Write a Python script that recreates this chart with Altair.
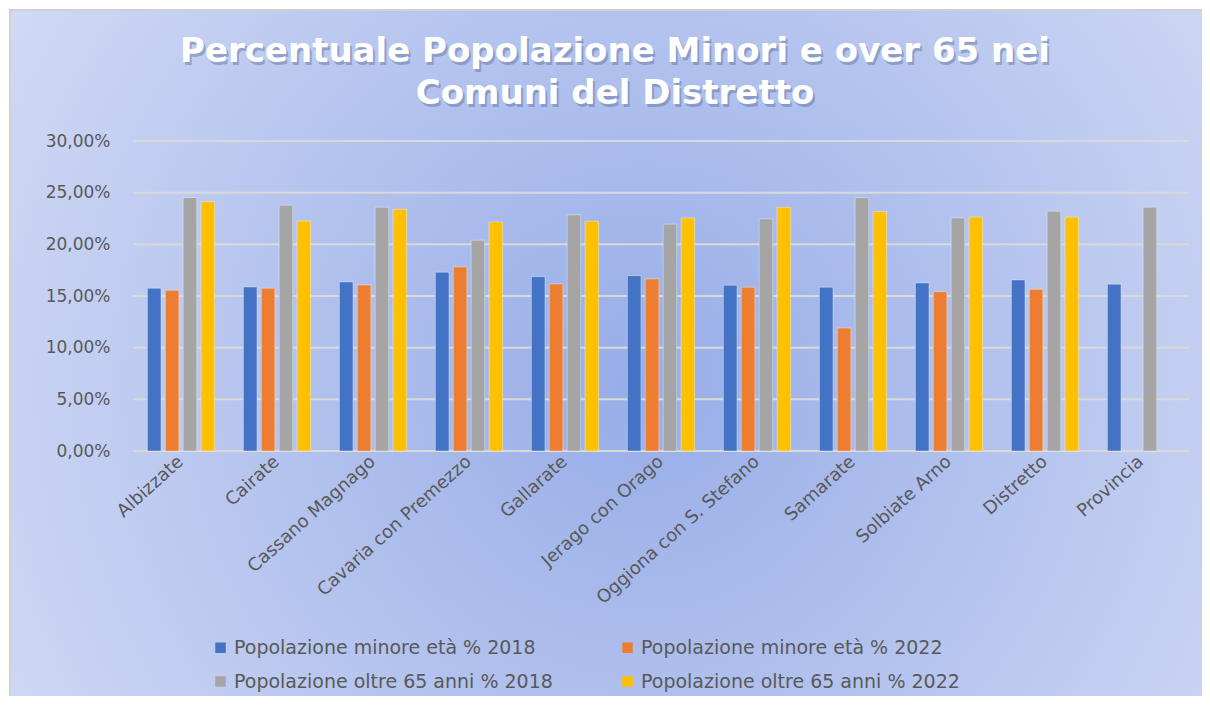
import altair as alt
import pandas as pd

# ---------------- data ----------------
cats = ["Albizzate", "Cairate", "Cassano Magnago", "Cavaria con Premezzo", "Gallarate",
        "Jerago con  Orago", "Oggiona con S. Stefano", "Samarate", "Solbiate Arno",
        "Distretto", "Provincia"]
series = ["Popolazione minore età % 2018", "Popolazione minore età  % 2022",
          "Popolazione oltre  65 anni % 2018", "Popolazione oltre  65 anni %  2022"]
minori_2018 = [15.75, 15.87, 16.36, 17.30, 16.87, 16.97, 16.04, 15.85, 16.26, 16.55, 16.14]
minori_2022 = [15.55, 15.75, 16.07, 17.81, 16.17, 16.65, 15.85, 11.90, 15.42, 15.65, None]
over65_2018 = [24.52, 23.78, 23.59, 20.40, 22.85, 21.95, 22.46, 24.52, 22.55, 23.20, 23.59]
over65_2022 = [24.13, 22.26, 23.40, 22.17, 22.23, 22.55, 23.59, 23.17, 22.65, 22.65, None]
colors = ["#4472C4", "#ED7D31", "#A5A5A5", "#FFC000"]
y_ticks = [0, 5, 10, 15, 20, 25, 30]
title_lines = ["Percentuale Popolazione Minori e over 65  nei", "Comuni del Distretto"]

rows = []
for i, c in enumerate(cats):
    for s, vals in zip(series, [minori_2018, minori_2022, over65_2018, over65_2022]):
        if vals[i] is not None:
            rows.append({"Comune": c, "Serie": s, "Valore": vals[i]})
df = pd.DataFrame(rows)

# ---------------- layout ----------------
W, H = 1056, 310
PL, PT = 125, 133
PR = 1194 - PL - W
PB = 688 - PT - H
FONT = "DejaVu Sans"
GREY = "#595959"

bg_fill = alt.RadialGradient(
    gradient="radial",
    stops=[alt.GradientStop(offset=0, color="#97ade8"),
           alt.GradientStop(offset=1, color="#e1e6f8")],
    x1=0.52, y1=0.52, x2=0.52, y2=0.52, r1=0, r2=0.78,
)

bg = alt.Chart(pd.DataFrame({"k": [0]})).mark_rect(
    fill=bg_fill, stroke="#d0d0d0", strokeWidth=2
).encode(
    x=alt.value(-PL + 2), x2=alt.value(W + PR + 20),
    y=alt.value(-PT + 2), y2=alt.value(H + PB + 20),
)

yscale = alt.Scale(domain=[0, 30], nice=False)
yaxis = alt.Axis(title=None, values=y_ticks,
                 labelExpr="replace(format(datum.value,'.2f'),'.',',') + '%'",
                 labelFontSize=17, labelFont=FONT, labelColor=GREY,
                 labelPadding=23, ticks=False, domain=False,
                 grid=False, zindex=1)

grid = alt.Chart(pd.DataFrame({"v": y_ticks})).mark_rule(
    color="#d9d9d9", strokeWidth=2
).encode(y=alt.Y("v:Q", scale=yscale, axis=yaxis))

bars = alt.Chart(df).mark_bar(stroke="white", strokeOpacity=0.35, strokeWidth=1).encode(
    x=alt.X("Comune:N", sort=cats,
            scale=alt.Scale(paddingInner=0.3, paddingOuter=0.15),
            axis=alt.Axis(title=None, labelAngle=-42, labelFontSize=18, labelFont=FONT,
                          labelColor=GREY, ticks=False, domain=False, labelPadding=8,
                          labelAlign="right", labelBaseline="middle", labelLimit=0,
                          grid=False, zindex=1)),
    xOffset=alt.XOffset("Serie:N", sort=series,
                        scale=alt.Scale(domain=series, paddingInner=0.24, paddingOuter=0)),
    y=alt.Y("Valore:Q", scale=yscale, axis=yaxis),
    color=alt.Color("Serie:N", sort=series,
                    scale=alt.Scale(domain=series, range=colors),
                    legend=alt.Legend(title=None, orient="none", legendX=78, legendY=497,
                                      direction="horizontal", columns=2,
                                      symbolType="square", symbolSize=110,
                                      symbolStrokeWidth=0, labelFontSize=19,
                                      labelFont=FONT, labelColor=GREY, labelLimit=0,
                                      rowPadding=14, columnPadding=59)),
)

tdf = pd.DataFrame({"t": ["\n".join(title_lines)]})
shadow = alt.Chart(tdf).mark_text(
    font="DejaVu Sans", fontSize=34, fontWeight="bold", color="#5d6f9e", opacity=0.45,
    lineBreak="\n", lineHeight=42, align="center", baseline="middle", dx=2, dy=3,
).encode(text="t:N", x=alt.value(482), y=alt.value(-89))
title = alt.Chart(tdf).mark_text(
    font="DejaVu Sans", fontSize=34, fontWeight="bold", color="white",
    lineBreak="\n", lineHeight=42, align="center", baseline="middle",
).encode(text="t:N", x=alt.value(482), y=alt.value(-89))

chart = alt.layer(bg, grid, bars, shadow, title).properties(
    width=W, height=H,
    padding={"left": PL, "top": PT, "right": PR, "bottom": PB},
    autosize=alt.AutoSizeParams(type="none"),
    background="white",
).configure_view(stroke=None)

chart.save("out.html", embed_options={"renderer": "svg", "actions": False})
